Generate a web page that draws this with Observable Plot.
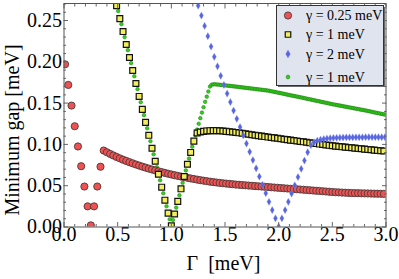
<!DOCTYPE html>
<html><head><meta charset="utf-8">
<script src="https://cdn.jsdelivr.net/npm/d3@7"></script>
<script src="https://cdn.jsdelivr.net/npm/@observablehq/plot@0.6"></script>
<style>body{margin:0;background:#fff}#c{position:relative;width:399px;height:279px}</style>
</head><body><div id="c"></div>
<script>
// Γ [meV], minimum gap [meV]
const red = [[.01,.197],[.04,.172],[.07,.147],[.10,.122],[.13,.0975],[.16,.0736],[.19,.049],[.22,.025],[.25,.002],[.28,.025],[.31,.049],[.34,.073],[.37,.0926],
[.40,.0905],[.43,.0885],[.46,.0866],[.49,.0848],[.52,.0831],[.55,.0815],[.58,.0800],[.61,.0785],[.64,.0771],[.67,.0757],[.70,.0744],[.73,.0731],[.76,.0719],[.79,.0707],[.82,.0696],[.85,.0685],[.88,.0675],[.91,.0665],[.94,.0655],[.97,.0645],
[1.00,.0636],[1.03,.0627],[1.06,.0619],[1.09,.0611],[1.12,.0603],[1.15,.0595],[1.18,.0588],[1.21,.0581],[1.24,.0574],[1.27,.0567],[1.30,.0561],[1.33,.0555],[1.36,.0549],[1.39,.0544],[1.42,.0539],[1.45,.0534],[1.48,.0530],
[1.51,.0526],[1.54,.0522],[1.57,.0518],[1.60,.0514],[1.63,.0511],[1.66,.0508],[1.69,.0505],[1.72,.0502],[1.75,.0499],[1.78,.0496],[1.81,.0493],[1.84,.0490],[1.87,.0487],[1.90,.0484],[1.93,.0481],[1.96,.0478],[1.99,.0475],
[2.02,.0472],[2.05,.0469],[2.08,.0466],[2.11,.0463],[2.14,.0460],[2.17,.0457],[2.20,.0454],[2.23,.0451],[2.26,.0448],[2.29,.0445],[2.32,.0442],[2.35,.0439],[2.38,.0436],[2.41,.0433],[2.44,.0430],[2.47,.0427],[2.50,.0424],
[2.53,.0421],[2.56,.0419],[2.59,.0417],[2.62,.0415],[2.65,.0413],[2.68,.0411],[2.71,.0410],[2.74,.0409],[2.77,.0408],[2.80,.0407],[2.83,.0406],[2.86,.0405],[2.89,.0404],[2.92,.0403],[2.95,.0402],[2.98,.0401]];

const yellow = [[.49,.2680],[.52,.2523],[.55,.2366],[.58,.2209],[.61,.2052],[.64,.1895],[.67,.1738],[.70,.1581],[.73,.1424],[.76,.1267],[.79,.1110],[.82,.0953],[.85,.0796],[.88,.0639],[.91,.0482],[.94,.0325],[.97,.0168],
[1.00,.0015],[1.03,.0158],[1.06,.0310],[1.09,.0462],[1.12,.0612],[1.15,.0760],[1.18,.0903],[1.21,.1040],[1.24,.1138],[1.27,.1150],[1.30,.1158],[1.33,.1163],[1.36,.1166],[1.39,.1167],[1.42,.1167],[1.45,.1165],[1.48,.1162],
[1.51,.1158],[1.54,.1154],[1.57,.1150],[1.60,.1145],[1.63,.1140],[1.66,.1135],[1.69,.1129],[1.72,.1123],[1.75,.1117],[1.78,.1111],[1.81,.1106],[1.84,.1100],[1.87,.1095],[1.90,.1089],[1.93,.1084],[1.96,.1079],[1.99,.1074],
[2.02,.1068],[2.05,.1063],[2.08,.1058],[2.11,.1052],[2.14,.1047],[2.17,.1042],[2.20,.1036],[2.23,.1031],[2.26,.1026],[2.29,.1020],[2.32,.1015],[2.35,.1010],[2.38,.1004],[2.41,.0999],[2.44,.0994],[2.47,.0989],[2.50,.0984],
[2.53,.0979],[2.56,.0975],[2.59,.0971],[2.62,.0967],[2.65,.0963],[2.68,.0959],[2.71,.0955],[2.74,.0951],[2.77,.0947],[2.80,.0943],[2.83,.0939],[2.86,.0935],[2.89,.0931],[2.92,.0927],[2.95,.0923],[2.98,.0920]];

const blue = [[1.25,.2680],[1.28,.2560],[1.31,.2435],[1.34,.2310],[1.37,.2185],[1.40,.2060],[1.43,.1945],[1.46,.1830],[1.49,.1720],[1.52,.1615],[1.55,.1512],[1.58,.1410],[1.61,.1310],[1.64,.1210],[1.67,.1110],[1.70,.1010],
[1.73,.0910],[1.76,.0810],[1.79,.0710],[1.82,.0610],[1.85,.0510],[1.88,.0410],[1.91,.0305],[1.94,.0205],[1.97,.0105],[2.00,.0005],
[2.03,.0105],[2.06,.0205],[2.09,.0305],[2.12,.0405],[2.15,.0505],[2.18,.0605],[2.21,.0705],[2.24,.0805],[2.27,.0905],[2.30,.0990],[2.33,.1025],[2.36,.1045],[2.39,.1057],[2.42,.1065],[2.45,.1071],[2.48,.1075],
[2.51,.1078],[2.54,.1080],[2.57,.1082],[2.60,.1083],[2.63,.1084],[2.66,.1085],[2.69,.1085],[2.72,.1086],[2.75,.1086],[2.78,.1086],[2.81,.1087],[2.84,.1087],[2.87,.1087],[2.90,.1087],[2.93,.1087],[2.96,.1087],[2.99,.1087]];

const green = [[.490,.2693],[.505,.2614],[.520,.2535],[.535,.2456],[.550,.2378],[.565,.2299],[.580,.2220],[.595,.2141],[.610,.2063],[.625,.1984],[.640,.1905],[.655,.1826],[.670,.1748],[.685,.1669],[.700,.1590],
[.715,.1511],[.730,.1433],[.745,.1354],[.760,.1275],[.775,.1196],[.790,.1118],[.805,.1039],[.820,.0960],[.835,.0881],[.850,.0803],[.865,.0724],[.880,.0645],[.895,.0566],[.910,.0488],[.925,.0409],[.940,.0330],
[.955,.0251],[.970,.0173],[.985,.0094],[1.000,.0015],[1.015,.0085],[1.030,.0160],[1.045,.0235],[1.060,.0310],[1.075,.0385],[1.090,.0460],[1.105,.0535],[1.120,.0610],[1.135,.0685],[1.150,.0758],[1.165,.0830],
[1.180,.0902],[1.195,.0973],[1.210,.1043],[1.225,.1111],[1.240,.1180],[1.255,.1250],[1.270,.1318],[1.285,.1385],[1.300,.1450],[1.315,.1515],[1.330,.1578],[1.345,.1640],[1.360,.1700],[1.375,.1722],[1.390,.1727],
[1.405,.1728],[1.420,.1726],[1.435,.1724],[1.450,.1722],[1.465,.1720],[1.480,.1718],[1.495,.1716],[1.510,.1714],[1.525,.1711],[1.540,.1709],[1.555,.1707],[1.570,.1705],[1.585,.1702],[1.600,.1700],[1.615,.1698],
[1.630,.1695],[1.645,.1693],[1.660,.1690],[1.675,.1688],[1.690,.1686],[1.705,.1683],[1.720,.1681],[1.735,.1678],[1.750,.1676],[1.765,.1674],[1.780,.1671],[1.795,.1669],[1.810,.1666],[1.825,.1664],[1.840,.1662],
[1.855,.1659],[1.870,.1657],[1.885,.1654],[1.900,.1652],[1.915,.1648],[1.930,.1644],[1.945,.1640],[1.960,.1636],[1.975,.1632],[1.990,.1628],[2.005,.1624],[2.020,.1620],[2.035,.1616],[2.050,.1612],[2.065,.1607],
[2.080,.1603],[2.095,.1599],[2.110,.1595],[2.125,.1591],[2.140,.1587],[2.155,.1583],[2.170,.1579],[2.185,.1575],[2.200,.1571],[2.215,.1567],[2.230,.1563],[2.245,.1558],[2.260,.1554],[2.275,.1550],[2.290,.1546],
[2.305,.1542],[2.320,.1537],[2.335,.1533],[2.350,.1529],[2.365,.1525],[2.380,.1521],[2.395,.1516],[2.410,.1512],[2.425,.1508],[2.440,.1504],[2.455,.1500],[2.470,.1495],[2.485,.1491],[2.500,.1487],[2.515,.1483],
[2.530,.1480],[2.545,.1476],[2.560,.1472],[2.575,.1469],[2.590,.1465],[2.605,.1461],[2.620,.1457],[2.635,.1454],[2.650,.1450],[2.665,.1446],[2.680,.1443],[2.695,.1439],[2.710,.1435],[2.725,.1432],[2.740,.1428],
[2.755,.1424],[2.770,.1420],[2.785,.1417],[2.800,.1413],[2.815,.1409],[2.830,.1405],[2.845,.1401],[2.860,.1397],[2.875,.1392],[2.890,.1388],[2.905,.1384],[2.920,.1380],[2.935,.1376],[2.950,.1372],[2.965,.1368],
[2.980,.1364],[2.995,.1360]];

const seriesLabels = ["γ = 0.25 meV", "γ = 1 meV", "γ = 2 meV", "γ = 1 meV"];
const xLabel = "Γ\u00a0\u00a0[meV]";
const yLabel = "Minimum gap [meV]";
const xMajor = [0, 0.5, 1, 1.5, 2, 2.5, 3];
const xMinor = [0.1,0.2,0.3,0.4,0.6,0.7,0.8,0.9,1.1,1.2,1.3,1.4,1.6,1.7,1.8,1.9,2.1,2.2,2.3,2.4,2.6,2.7,2.8,2.9];
const yMajor = [0, 0.05, 0.10, 0.15, 0.20, 0.25];
const yMinor = [0.01,0.02,0.03,0.04,0.06,0.07,0.08,0.09,0.11,0.12,0.13,0.14,0.16,0.17,0.18,0.19,0.21,0.22,0.23,0.24,0.26,0.27];

const FONT = "'Liberation Serif','Times New Roman',serif";
const TICK = "#666";
const gx = d => d[0], gy = d => d[1];

const chart = Plot.plot({
  width: 399, height: 279,
  marginLeft: 63.5, marginRight: 13.5, marginTop: 3, marginBottom: 52.5,
  style: {fontFamily: FONT, fontSize: "20px", background: "#fff", color: "#000"},
  x: {domain: [0, 3], axis: null},
  y: {domain: [0, 0.2706], axis: null},
  marks: [
    Plot.dot(green, {x: gx, y: gy, r: 1.8, fill: "#2fd41a", stroke: "#1f6e10", strokeWidth: 0.5, clip: true}),
    Plot.dot(red, {x: gx, y: gy, r: 3.6, fill: "#ef5252", stroke: "#4a3a3a", strokeWidth: 0.9, clip: true}),
    Plot.dot(yellow, {x: gx, y: gy, r: 3.3, symbol: "square", fill: "#f3ef5c", stroke: "#111", strokeWidth: 1.2, clip: true}),
    Plot.dot(blue, {x: gx, y: gy, r: 2.2, symbol: "diamond", fill: "#5865e0", stroke: "#8a95ee", strokeWidth: 0.3, clip: true}),
    Plot.axisX(xMajor, {anchor: "bottom", tickSize: 0, tickPadding: 0, tickFormat: d => d.toFixed(1), label: null}),
    Plot.axisY(yMajor, {anchor: "left", tickSize: 0, tickPadding: 2, tickFormat: d => d.toFixed(2), label: null}),
    Plot.axisX(xMajor, {anchor: "bottom", tickSize: -4.5, stroke: TICK, tickFormat: () => "", label: null}),
    Plot.axisX(xMinor, {anchor: "bottom", tickSize: -2.5, stroke: TICK, tickFormat: () => "", label: null}),
    Plot.axisX(xMajor, {anchor: "top", tickSize: -4.5, stroke: TICK, tickFormat: () => "", label: null}),
    Plot.axisX(xMinor, {anchor: "top", tickSize: -2.5, stroke: TICK, tickFormat: () => "", label: null}),
    Plot.axisY(yMajor, {anchor: "left", tickSize: -4.5, stroke: TICK, tickFormat: () => "", label: null}),
    Plot.axisY(yMinor, {anchor: "left", tickSize: -2.5, stroke: TICK, tickFormat: () => "", label: null}),
    Plot.axisY(yMajor, {anchor: "right", tickSize: -4.5, stroke: TICK, tickFormat: () => "", label: null}),
    Plot.axisY(yMinor, {anchor: "right", tickSize: -2.5, stroke: TICK, tickFormat: () => "", label: null}),
    Plot.frame({stroke: "#555", strokeWidth: 1})
  ]
});
document.getElementById("c").appendChild(chart);

const svg = d3.select(chart);
svg.append("text").attr("x", 223.5).attr("y", 270).attr("text-anchor", "middle")
  .attr("font-family", FONT).attr("font-size", 20).attr("fill", "#000").text(xLabel);
svg.append("text").attr("transform", "translate(18.5,130) rotate(-90)").attr("text-anchor", "middle")
  .attr("font-family", FONT).attr("font-size", 20).attr("fill", "#000").text(yLabel);

// legend
const lg = svg.append("g").attr("text-anchor", "start");
lg.append("rect").attr("x", 278).attr("y", 7).attr("width", 107).attr("height", 80).attr("fill", "#6a6a6a");
lg.append("rect").attr("x", 276.5).attr("y", 5.5).attr("width", 107).attr("height", 80)
  .attr("fill", "#dfe4ef").attr("stroke", "#333").attr("stroke-width", 1);
const rows = [15.5, 34.5, 54, 77];
const syms = [
  {type: d3.symbolCircle, r: 3.6, fill: "#ef5252", stroke: "#4a3a3a", sw: 0.9},
  {type: d3.symbolSquare, r: 3.1, fill: "#f3ef5c", stroke: "#111", sw: 1.2},
  {type: d3.symbolDiamond, r: 2.5, fill: "#5865e0", stroke: "#8a95ee", sw: 0.3},
  {type: d3.symbolCircle, r: 1.9, fill: "#2fd41a", stroke: "#1f6e10", sw: 0.5}
];
seriesLabels.forEach((t, i) => {
  const s = syms[i];
  lg.append("path").attr("d", d3.symbol(s.type, Math.PI * s.r * s.r)())
    .attr("transform", `translate(288,${rows[i]})`)
    .attr("fill", s.fill).attr("stroke", s.stroke).attr("stroke-width", s.sw);
  lg.append("text").attr("x", 306).attr("y", rows[i] + 4.6).attr("text-anchor", "start")
    .attr("font-family", FONT).attr("font-size", 14).attr("fill", "#000").text(t);
});
</script>
</body></html>
